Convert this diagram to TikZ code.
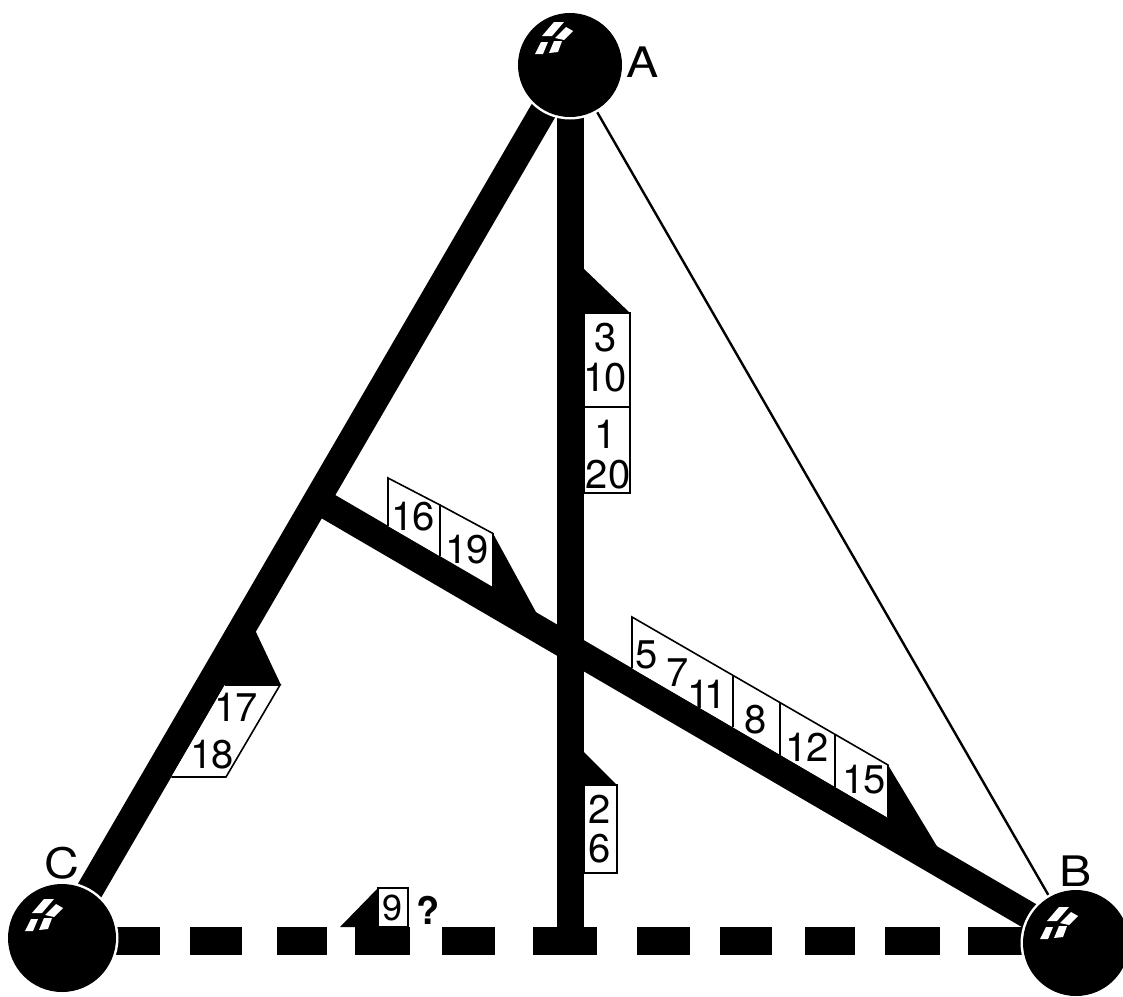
\documentclass[tikz,border=0pt]{standalone}
\usepackage{fontspec}
\newfontfamily\lblfont{TeX Gyre Heros}
\newfontfamily\letfont[FakeStretch=1.15]{TeX Gyre Heros}
\usetikzlibrary{calc}
\tikzset{
  bar/.style={line width=27pt, black},
  thinline/.style={line width=2.4pt, black},
  dashpiece/.style={fill=black},
  flag/.style={fill=black},
  lblbox/.style={draw=black, fill=white, line width=1.6pt, line join=miter},
  num/.style={font=\lblfont\fontsize{40}{40}\selectfont, inner sep=0pt},
  qmark/.style={font=\lblfont\bfseries\fontsize{38}{38}\selectfont, inner sep=0pt},
  letter/.style={font=\letfont\fontsize{42}{42}\selectfont, inner sep=0pt},
  pane/.style={fill=white},
}
\newcommand\ball[2]{%
  \fill[white] (#1) circle[radius=#2+2.5];
  \fill[black] (#1) circle[radius=#2];}
\newcommand\shine[1]{%
  \begin{scope}[shift={(#1)}]
    \fill[pane] (-28,-29) -- (-16,-43) -- (-6,-43) -- (-18,-29) -- cycle;
    \fill[pane] (-15,-27) -- (-4,-38) -- (3,-34) -- (-6,-25) -- cycle;
    \fill[pane] (-35,-11) -- (-29,-23) -- (-22,-23) -- (-27,-11) -- cycle;
    \fill[pane] (-21,-12) -- (-16,-24) -- (-8,-24) -- (-12,-13) -- cycle;
  \end{scope}}
\begin{document}
\begin{tikzpicture}[x=1pt,y=-1pt]
\useasboundingbox (0,0) rectangle (1123,996);
% vertices
\coordinate (A) at (570,65);
\coordinate (B) at (1076,943);
\coordinate (C) at (62,938);
\coordinate (J) at (317,500);
\coordinate (T) at (570,941);
% thin line
\draw[thinline] (A) -- (B);
% thick bars
\draw[bar] (A) -- (C);
\draw[bar] (A) -- (T);
\draw[bar] (J) -- (B);
% dashed base line
\foreach \a/\b in {62/160, 190/242, 277/327, 355/410, 442/495, 533/597, 637/690, 720/772, 805/855, 885/940, 968/1076}
  \fill[dashpiece] (\a,927) rectangle (\b,955);
% flag 9 on the base line
\fill[flag] (340,927) -- (378,888) -- (378,927) -- cycle;
\draw[lblbox] (378,888) rectangle (408,927);
\node[num, font=\lblfont\fontsize{36}{36}\selectfont] (n9) at (393,908) {9};
\node[qmark] (q) at (428,910) {?};
% upper flag on the vertical bar
\fill[flag] (582,267) -- (630,313) -- (582,313) -- cycle;
\draw[lblbox] (584,313) rectangle (630,407);
\draw[lblbox] (584,407) rectangle (630,493);
\node[num] (n3) at (606,338) {3};
\node[num] (n10) at (605,378) {1\kern-2pt0};
\node[num] (n1) at (606,434) {1};
\node[num] (n20) at (608,475) {20};
% lower flag on the vertical bar
\fill[flag] (582,750) -- (617,785) -- (582,785) -- cycle;
\draw[lblbox] (584,785) rectangle (617,873);
\node[num] (n2) at (600,809) {2};
\node[num] (n6) at (600,849) {6};
% flag on A-C bar
\fill[flag] (255,630) -- (281,685) -- (222,685) -- cycle;
\draw[lblbox] (224.8,685) -- (280,685) -- (226,777) -- (171.3,777);
\node[num] (n17) at (236,707) {1\kern-2pt7};
\node[num] (n18) at (212,755) {1\kern-2pt8};
% flag 16/19 on diagonal bar
\draw[lblbox] (388,526) -- (388,478) -- (440,505) -- (440,556.2);
\draw[lblbox] (440,505) -- (493,533.5) -- (493,587.1);
\fill[flag] (493,533.5) -- (537,614) -- (493,589) -- cycle;
\node[num] (n16) at (413,517) {1\kern-2pt6};
\node[num] (n19) at (467,550) {1\kern-2pt9};
% flag 5..15 on diagonal bar
\draw[lblbox] (632,668.3) -- (632,617) -- (888,765) -- (888,817.7);
\draw[lblbox] (733,675.4) -- (733,727.2);
\draw[lblbox] (780,702.5) -- (780,754.7);
\draw[lblbox] (835,734.3) -- (835,786.8);
\fill[flag] (888,765) -- (938,848) -- (888,819) -- cycle;
\node[num] (n5) at (647,655) {5};
\node[num] (n7) at (678,673) {7};
\node[num] (n11) at (707,694) {1\kern-5pt1};
\node[num] (n8) at (756,720) {8};
\node[num] (n12) at (807,747) {1\kern-2pt2};
\node[num] (n15) at (864,780) {1\kern-2pt5};
% balls
\ball{A}{52}
\ball{B}{53}
\ball{C}{54}
\shine{A}
\shine{$(B)+(-1,7)$}
\shine{$(C)+(-2,4)$}
% letters
\node[letter] (la) at (643,62) {A};
\node[letter] (lb) at (1076,871) {B};
\node[letter] (lc) at (62,863) {C};
\end{tikzpicture}
\end{document}
